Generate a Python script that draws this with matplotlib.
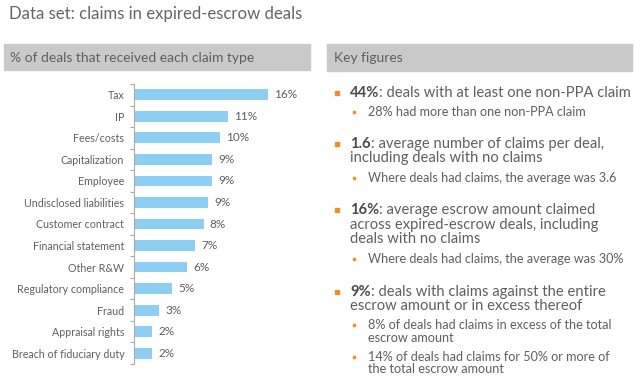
import matplotlib
matplotlib.use("Agg")
import matplotlib.pyplot as plt
from matplotlib.patches import Rectangle

plt.rcParams['font.family'] = ['Lato', 'DejaVu Sans']

categories = ["Tax", "IP", "Fees/costs", "Capitalization", "Employee",
              "Undisclosed liabilities", "Customer contract", "Financial statement",
              "Other R&W", "Regulatory compliance", "Fraud", "Appraisal rights",
              "Breach of fiduciary duty"]
values = [16, 11, 10, 9, 9, 9, 8, 7, 6, 5, 3, 2, 2]
bar_lengths = [16, 11.2, 10.3, 9.3, 9.3, 8.8, 8.3, 7.3, 6.3, 4.5, 3.0, 2.2, 2.2]

title = "Data set: claims in expired-escrow deals"
left_header = "% of deals that received each claim type"
right_header = "Key figures"

# (bold part, rest, level, y)
key_lines = [
    ("44%", ": deals with at least one non-PPA claim", 0, 93),
    ("", "28% had more than one non-PPA claim", 1, 112),
    ("1.6", ": average number of claims per deal,", 0, 144),
    ("", "including deals with no claims", 2, 158),
    ("", "Where deals had claims, the average was 3.6", 1, 178),
    ("16%", ": average escrow amount claimed", 0, 210),
    ("", "across expired-escrow deals, including", 2, 225),
    ("", "deals with no claims", 2, 239),
    ("", "Where deals had claims, the average was 30%", 1, 259),
    ("9%", ": deals with claims against the entire", 0, 292),
    ("", "escrow amount or in excess thereof", 2, 306),
    ("", "8% of deals had claims in excess of the total", 1, 325),
    ("", "escrow amount", 3, 338),
    ("", "14% of deals had claims for 50% or more of", 1, 357),
    ("", "the total escrow amount", 3, 369),
]

W, H = 640, 381
fig = plt.figure(figsize=(W / 100, H / 100), dpi=100)

def fx(x):
    return x / W

def fy(y):
    return 1 - y / H

TXT = "#5f5f5f"
ORANGE = "#f28c28"
BAR = "#8ccff2"
HDR = "#c9c9c9"

fig.text(fx(9), fy(14), title, fontsize=12.1, color="#666666", va="center", ha="left")

# header boxes
fig.patches.append(Rectangle((fx(4), fy(70)), fx(310) - fx(4), fy(44) - fy(70),
                             transform=fig.transFigure, color=HDR, zorder=0))
fig.patches.append(Rectangle((fx(327), fy(71)), fx(632) - fx(327), fy(44) - fy(71),
                             transform=fig.transFigure, color=HDR, zorder=0))
fig.text(fx(10), fy(58), left_header, fontsize=10, color=TXT, va="center", ha="left")
fig.text(fx(334), fy(58), right_header, fontsize=10, color=TXT, va="center", ha="left")

# bar chart
ax_left, ax_right = 134, 310
ax_top, ax_bot = 84, 364
ax = fig.add_axes([fx(ax_left), fy(ax_bot), fx(ax_right) - fx(ax_left), fy(ax_top) - fy(ax_bot)])
ypos = list(range(len(categories)))
ax.barh(ypos, bar_lengths, height=0.5, color=BAR)
ax.set_ylim(len(categories) - 0.5, -0.5)
px_per_unit = (268 - 134) / 16
ax.set_xlim(0, (ax_right - ax_left) / px_per_unit)
ax.set_yticks(ypos)
ax.set_yticklabels(categories, fontsize=7.7, color=TXT)
ax.tick_params(axis="y", which="major", length=0, pad=7)
ax.set_yticks([i - 0.5 for i in range(len(categories) + 1)], minor=True)
ax.tick_params(axis="y", which="minor", length=3, color="#aaaaaa", width=0.8)
ax.set_xticks([])
for s in ["top", "right", "bottom"]:
    ax.spines[s].set_visible(False)
ax.spines["left"].set_color("#aaaaaa")
ax.spines["left"].set_linewidth(0.8)
for i, (b, v) in enumerate(zip(bar_lengths, values)):
    ax.text(b + 0.75, i, f"{v}%", va="center", ha="left", fontsize=8.5, color=TXT)

# key figures
fig.canvas.draw()
renderer = fig.canvas.get_renderer()
MAIN = 10.6
SUB = 9.1
for bold, rest, level, y in key_lines:
    if level == 0:
        fig.patches.append(Rectangle((fx(335), fy(y + 2)), fx(339) - fx(335), fy(y - 2) - fy(y + 2),
                                     transform=fig.transFigure, color=ORANGE))
        t = fig.text(fx(350), fy(y), bold, fontsize=MAIN, fontweight="bold", color="#4a4a4a",
                     va="center", ha="left")
        bb = t.get_window_extent(renderer)
        fig.text(bb.x1 / fig.dpi / fig.get_figwidth(), fy(y), rest, fontsize=MAIN, color=TXT,
                 va="center", ha="left")
    elif level == 2:
        fig.text(fx(350), fy(y), rest, fontsize=MAIN, color=TXT, va="center", ha="left")
    elif level == 1:
        fig.patches.append(Rectangle((fx(353), fy(y + 1)), fx(355) - fx(353), fy(y - 1) - fy(y + 1),
                                     transform=fig.transFigure, color=ORANGE))
        fig.text(fx(368), fy(y), rest, fontsize=SUB, color=TXT, va="center", ha="left")
    else:
        fig.text(fx(368), fy(y), rest, fontsize=SUB, color=TXT, va="center", ha="left")

fig.savefig("out.png", dpi=100)
